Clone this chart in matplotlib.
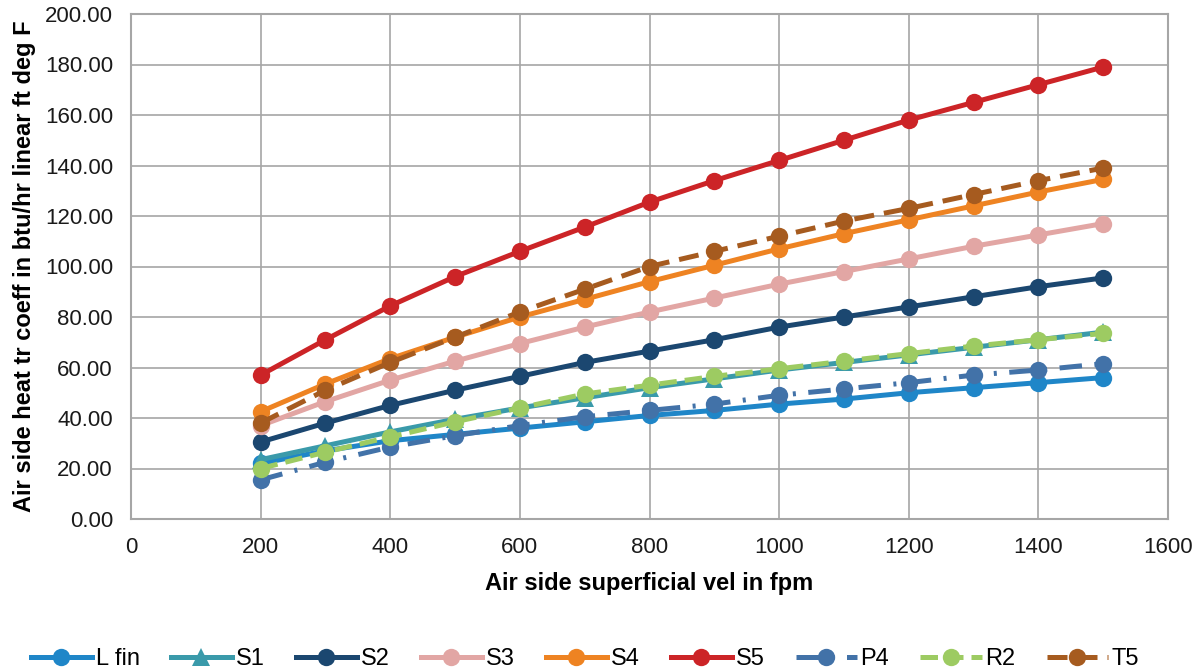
import matplotlib
matplotlib.use("Agg")
import matplotlib.pyplot as plt
from matplotlib.ticker import FormatStrFormatter, MultipleLocator

plt.rcParams['font.family'] = ['Liberation Sans', 'DejaVu Sans']

vel = [200, 300, 400, 500, 600, 700, 800, 900, 1000, 1100, 1200, 1300, 1400, 1500]

l_fin = [22, 27, 31, 33.5, 36, 38.5, 41, 43, 45.5, 47.5, 50, 52, 54, 56]
s1 = [23.5, 29, 34.5, 39.5, 44, 48, 52, 55.5, 59, 62, 65, 68, 71, 74]
s2 = [30.5, 38, 45, 51, 56.5, 62, 66.5, 71, 76, 80, 84, 88, 92, 95.5]
s3 = [37, 46.5, 55, 62.5, 69.5, 76, 82, 87.5, 93, 98, 103, 108, 112.5, 117]
s4 = [42.5, 53.5, 63.5, 72, 80, 87, 94, 100.5, 107, 113, 118.5, 124, 129.5, 134.5]
s5 = [57, 71, 84.4, 96, 106, 115.6, 125.5, 134, 142, 150, 158, 165, 172, 179]
p4 = [15.5, 22.5, 28.5, 33, 37, 40.5, 43, 45.5, 49, 51.5, 54, 57, 59, 61.5]
r2 = [20, 26.5, 32.5, 38.5, 44, 49.5, 53, 56.5, 59.5, 62.5, 65.5, 68.5, 71, 73.5]
t5 = [38, 51, 62, 72, 82, 91, 100, 106, 112, 118, 123, 128.5, 134, 139]

series = [
    ("L fin", l_fin, "#1F86C8", "-", "o"),
    ("S1", s1, "#3A9AAA", "-", "^"),
    ("S2", s2, "#1B4770", "-", "o"),
    ("S3", s3, "#E2A6A4", "-", "o"),
    ("S4", s4, "#EE8322", "-", "o"),
    ("S5", s5, "#CC2427", "-", "o"),
    ("P4", p4, "#4272A8", (0, (4.5, 2.5, 0.6, 2.5)), "o"),
    ("R2", r2, "#9DCB62", (0, (3.5, 1.6)), "o"),
    ("T5", t5, "#A65B1F", (0, (4, 2)), "o"),
]

fig = plt.figure(figsize=(12.01, 6.68), dpi=100)
ax = fig.add_axes([131/1201, 1 - 519/668, (1168-131)/1201, (519-14)/668])

for name, vals, col, ls, mk in series:
    ax.plot(vel, vals, color=col, linestyle=ls, linewidth=3.6, marker=mk,
            markersize=12.5, markeredgewidth=0, label=name)

ax.set_xlim(0, 1600)
ax.set_ylim(0, 200)
ax.xaxis.set_major_locator(MultipleLocator(200))
ax.yaxis.set_major_locator(MultipleLocator(20))
ax.yaxis.set_major_formatter(FormatStrFormatter('%.2f'))
ax.grid(True, color="#A6A6A6", linewidth=1.2)
ax.set_axisbelow(True)
for sp in ax.spines.values():
    sp.set_color("#A6A6A6")
    sp.set_linewidth(1.5)
ax.tick_params(length=0, labelsize=16, pad=13, labelcolor="#1a1a1a")

ax.set_xlabel("Air side superficial vel in fpm", fontsize=17, fontweight='bold', labelpad=10)
ax.set_ylabel("Air side heat tr coeff in btu/hr linear ft deg F", fontsize=17, fontweight='bold', labelpad=6)

fig.legend(loc='lower center', bbox_to_anchor=(0.487, -0.035), ncol=9, frameon=False,
           prop={'size': 17}, handlelength=2.6, columnspacing=1.32,
           handletextpad=0.15)

fig.savefig("out.png", dpi=100)
